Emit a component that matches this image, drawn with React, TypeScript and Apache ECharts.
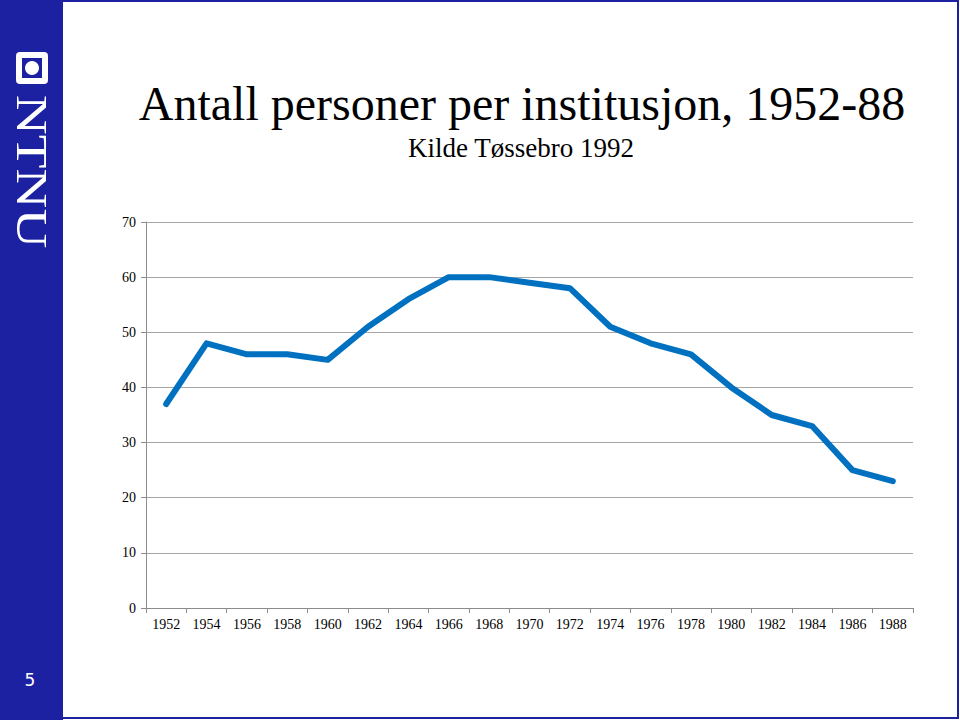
import React, { useEffect, useRef } from "react";
import * as echarts from "echarts";

const years = ["1952","1954","1956","1958","1960","1962","1964","1966","1968","1970","1972","1974","1976","1978","1980","1982","1984","1986","1988"];
const persons = [37, 48, 46, 46, 45, 51, 56, 60, 60, 59, 58, 51, 48, 46, 40, 35, 33, 25, 23];
const titleText = "Antall personer per institusjon, 1952-88";
const subtitleText = "Kilde Tøssebro 1992";
const pageNumber = "5";

const SERIF = "'Liberation Serif', 'Times New Roman', serif";
const SIDEBAR = "#1b21a1";

export default function App() {
  const ref = useRef<HTMLDivElement>(null);
  useEffect(() => {
    if (!ref.current) return;
    const chart = echarts.init(ref.current, null, { renderer: "svg" });
    chart.setOption({
      animation: false,
      backgroundColor: "#ffffff",
      grid: { left: 146, right: 47, top: 222, bottom: 112, containLabel: false },
      xAxis: {
        type: "category",
        data: years,
        boundaryGap: true,
        axisLine: { show: true, lineStyle: { color: "#8c8c8c", width: 1 } },
        axisTick: { show: true, length: 5, lineStyle: { color: "#8c8c8c" } },
        axisLabel: { color: "#000", fontFamily: SERIF, fontSize: 14, margin: 9, interval: 0 },
        splitLine: { show: false },
      },
      yAxis: {
        type: "value",
        min: 0,
        max: 70,
        interval: 10,
        axisLine: { show: true, lineStyle: { color: "#8c8c8c", width: 1 } },
        axisTick: { show: true, length: 5, lineStyle: { color: "#8c8c8c" } },
        axisLabel: { color: "#000", fontFamily: SERIF, fontSize: 14, margin: 10 },
        splitLine: { show: true, lineStyle: { color: "#a6a6a6", width: 1 } },
      },
      series: [
        {
          type: "line",
          data: persons,
          symbol: "none",
          lineStyle: { color: "#0070c0", width: 6, join: "round", cap: "round" },
          itemStyle: { color: "#0070c0" },
        },
      ],
      graphic: [
        { type: "rect", shape: { x: 0, y: 0, width: 63, height: 720 }, style: { fill: SIDEBAR } },
        { type: "rect", shape: { x: 1, y: 1, width: 957, height: 717 }, style: { fill: "none", stroke: SIDEBAR, lineWidth: 2 } },
        { type: "rect", shape: { x: 16, y: 52, width: 32, height: 32, r: 4 }, style: { fill: "#ffffff" } },
        { type: "rect", shape: { x: 22, y: 58, width: 20, height: 20 }, style: { fill: SIDEBAR } },
        { type: "circle", shape: { cx: 32, cy: 68, r: 7 }, style: { fill: "#ffffff" } },
        {
          type: "text",
          x: 53,
          y: 95,
          rotation: -Math.PI / 2,
          scaleX: 1.2,
          scaleY: 0.95,
          style: { text: "NTNU", fill: "#ffffff", font: `46px ${SERIF}`, textAlign: "left", textVerticalAlign: "top" },
        },
        {
          type: "text",
          x: 30,
          y: 680,
          style: { text: pageNumber, fill: "#ffffff", font: `17px 'DejaVu Sans', sans-serif`, textAlign: "center", textVerticalAlign: "middle" },
        },
        {
          type: "text",
          x: 522,
          y: 103,
          style: { text: titleText, fill: "#000", font: `48px ${SERIF}`, textAlign: "center", textVerticalAlign: "middle" },
        },
        {
          type: "text",
          x: 521,
          y: 148,
          style: { text: subtitleText, fill: "#000", font: `27px ${SERIF}`, textAlign: "center", textVerticalAlign: "middle" },
        },
      ],
    });
    return () => chart.dispose();
  }, []);
  return <div ref={ref} style={{ position: "fixed", left: 0, top: 0, width: 960, height: 720 }} />;
}
